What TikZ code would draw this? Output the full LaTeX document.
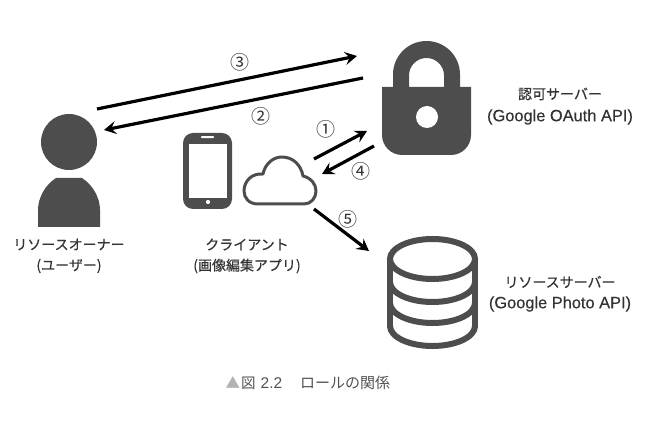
\documentclass[tikz,border=0pt]{standalone}
\usepackage{fontspec}
\usetikzlibrary{arrows.meta}
\setmainfont{Liberation Sans}
\newfontfamily\latinmed{Liberation Sans}[FakeBold=0.35]
\newfontfamily\jpfont{Noto Sans CJK JP}
\newfontfamily\jpbold{Noto Sans CJK JP}[FakeBold=0.4]
\definecolor{ink}{HTML}{4D4D4D}
\definecolor{txt}{HTML}{333333}
\tikzset{
  x=1pt,y=-1pt,
  link/.style={line width=3.2pt,black,-{Stealth[length=12pt,width=13pt,inset=4.5pt]}},
  lab/.style={text=txt,font=\fontsize{14}{16}\selectfont\jpbold,align=center,inner sep=0pt},
  latinlab/.style={text=txt,font=\fontsize{16.4}{18}\selectfont\latinmed,align=center,inner sep=0pt},
  num/.style={text=txt,font=\fontsize{19}{19}\selectfont\jpfont,inner sep=0pt},
  captext/.style={text=txt!85!white,font=\fontsize{14.5}{16}\selectfont\jpfont,inner sep=0pt,anchor=west},
  solidicon/.style={fill=ink,draw=none},
}
\begin{document}
\begin{tikzpicture}
\useasboundingbox (0,0) rectangle (653,427);
% person
\fill[solidicon] (69,142) circle[radius=28];
\fill[solidicon] (38,227) -- (38,210) .. controls (38,198) and (45,185) .. (56,178) -- (82,178) .. controls (93,185) and (100,198) .. (100,210) -- (100,227) -- cycle;
% phone
\fill[solidicon,rounded corners=10pt] (183,133) rectangle (232,209);
\fill[white] (189,144) rectangle (227,198);
\fill[white,rounded corners=0.8pt] (201,136.2) rectangle (214,138.2);
\fill[white] (208,202) circle[radius=2.1];
% cloud
\draw[ink,line width=3pt,line join=round] (258,204) .. controls (249,204) and (244,198) .. (244,191)
  .. controls (244,181) and (252,173) .. (263,174)
  .. controls (265,164) and (273,157) .. (282,157)
  .. controls (293,157) and (301,165) .. (303,176)
  .. controls (311,178) and (316,184) .. (316,191)
  .. controls (316,198) and (311,204) .. (304,204) -- cycle;
% lock
\fill[solidicon,even odd rule] (393,88) -- (393,74.5) arc[start angle=180,end angle=360,radius=33.5] -- (460,88) -- cycle
  (409,88) -- (444,88) -- (444,75.5) arc[start angle=0,end angle=-180,radius=17.5] -- cycle;
\fill[solidicon] (382,87) -- (471,87) -- (471,135) .. controls (471,146) and (462,155) .. (451,155) -- (402,155) .. controls (391,155) and (382,146) .. (382,135) -- cycle;
\fill[white] (427,117) circle[radius=11];
% database
\begin{scope}[ink,line width=6pt,line cap=round]
\draw (432.5,259) ellipse[x radius=42.5,y radius=20];
\draw (390,259) -- (390,326);
\draw (475,259) -- (475,326);
\draw (390,326) arc[start angle=180,end angle=0,x radius=42.5,y radius=20];
\draw (390,282) arc[start angle=180,end angle=0,x radius=42.5,y radius=20];
\draw (390,303) arc[start angle=180,end angle=0,x radius=42.5,y radius=20];
\end{scope}
% arrows
\coordinate (a3s) at (97,109); \coordinate (a3e) at (357,56);
\coordinate (a2s) at (363,78); \coordinate (a2e) at (104,130);
\coordinate (a1s) at (314,159); \coordinate (a1e) at (367,131);
\coordinate (a4s) at (374,146); \coordinate (a4e) at (322,174);
\coordinate (a5s) at (314,209); \coordinate (a5e) at (369,251);
\draw[link] (a3s) -- (a3e);
\draw[link] (a2s) -- (a2e);
\draw[link] (a1s) -- (a1e);
\draw[link] (a4s) -- (a4e);
\draw[link] (a5s) -- (a5e);
% numbers
\node[num] (n3) at (240,62) {③};
\node[num] (n2) at (261,116) {②};
\node[num] (n1) at (326,129) {①};
\node[num] (n4) at (361,171) {④};
\node[num] (n5) at (348,219) {⑤};
% labels
\node[lab] (owner1) at (69,244.5) {リソースオーナー};
\node[lab] (owner2) at (69,266) {(ユーザー)};
\node[lab] (cli1) at (247,244.5) {クライアント};
\node[lab] (cli2) at (247,266) {(画像編集アプリ)};
\node[lab] (auth1) at (560,94) {認可サーバー};
\node[latinlab] (auth2) at (560,117) {(Google OAuth API)};
\node[lab] (res1) at (560,282) {リソースサーバー};
\node[latinlab] (res2) at (560,304) {(Google Photo API)};
% caption
\node[captext,text=gray!60] (tri) at (225.5,383) {▲};
\node[captext] (capt1) at (241,383) {図};
\node[captext,font=\fontsize{15.5}{16}\selectfont] (capt2) at (260.5,383) {2.2};
\node[captext] (capt3) at (300,383) {\fontsize{15}{16}\selectfont ロールの関係};
\end{tikzpicture}
\end{document}
